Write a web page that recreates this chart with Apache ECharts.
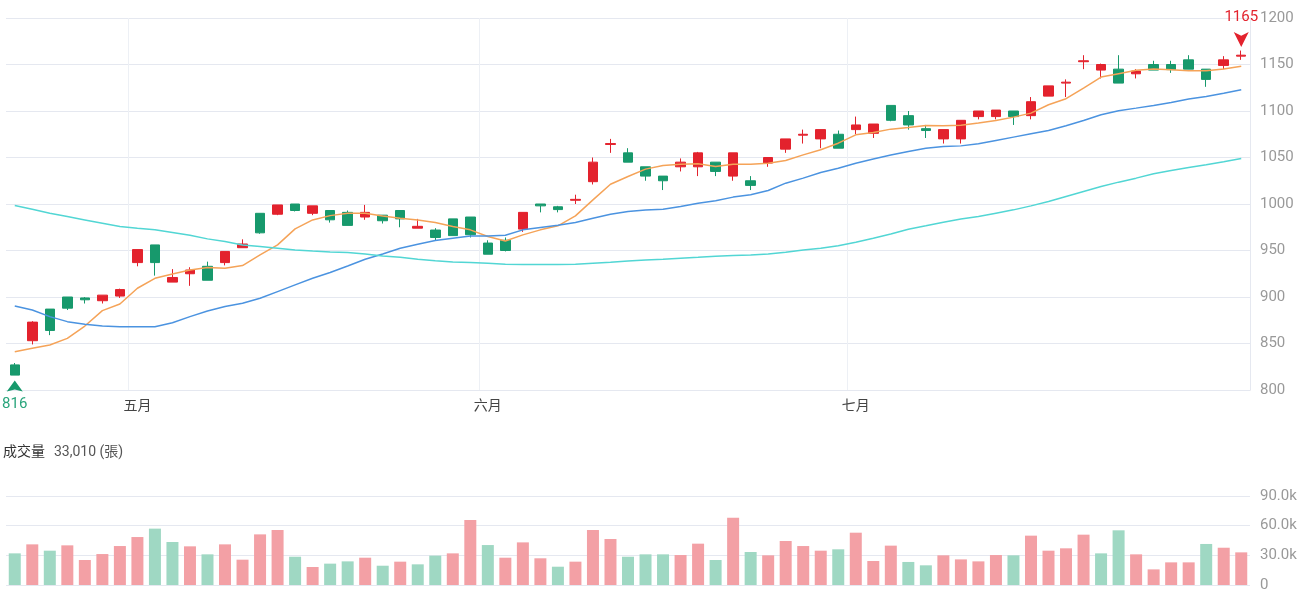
<!DOCTYPE html>
<html>
<head>
<meta charset="utf-8">
<title>K線圖</title>
<script src="https://cdn.jsdelivr.net/npm/echarts@6.0.0/dist/echarts.min.js"></script>
<style>
    html, body { margin: 0; padding: 0; background: #fff; }
    #kline { width: 1300px; height: 600px; }
</style>
</head>
<body>
<div id="kline"></div>
<script>
// 交易日
var dates = [
    '2025-04-22', '2025-04-23', '2025-04-24', '2025-04-25', '2025-04-28', '2025-04-29', '2025-04-30',
    '2025-05-02', '2025-05-05', '2025-05-06', '2025-05-07', '2025-05-08', '2025-05-09', '2025-05-12',
    '2025-05-13', '2025-05-14', '2025-05-15', '2025-05-16', '2025-05-19', '2025-05-20', '2025-05-21',
    '2025-05-22', '2025-05-23', '2025-05-26', '2025-05-27', '2025-05-28', '2025-05-29',
    '2025-06-02', '2025-06-03', '2025-06-04', '2025-06-05', '2025-06-06', '2025-06-09', '2025-06-10',
    '2025-06-11', '2025-06-12', '2025-06-13', '2025-06-16', '2025-06-17', '2025-06-18', '2025-06-19',
    '2025-06-20', '2025-06-23', '2025-06-24', '2025-06-25', '2025-06-26', '2025-06-27', '2025-06-30',
    '2025-07-01', '2025-07-02', '2025-07-03', '2025-07-04', '2025-07-07', '2025-07-08', '2025-07-09',
    '2025-07-10', '2025-07-11', '2025-07-14', '2025-07-15', '2025-07-16', '2025-07-17', '2025-07-18',
    '2025-07-21', '2025-07-22', '2025-07-23', '2025-07-24', '2025-07-25', '2025-07-28', '2025-07-29',
    '2025-07-30', '2025-07-31'
];
var monthNames = { '04': '四月', '05': '五月', '06': '六月', '07': '七月' };

// 開 收 低 高
var openData = [
    827, 853, 887, 900, 899, 896, 901, 937, 956, 916, 925, 933, 937, 953, 990, 989, 1000, 990, 993, 991,
    986, 988, 993, 974, 972, 984, 986, 958, 961, 973, 1000, 997, 1004, 1024, 1064, 1055, 1040, 1030, 1040, 1040,
    1045, 1030, 1025, 1044, 1059, 1074, 1070, 1075, 1080, 1076, 1106, 1095, 1081, 1070, 1070, 1094, 1094, 1100, 1095, 1116,
    1130, 1153, 1144, 1145, 1140, 1150, 1150, 1155, 1145, 1149, 1159
];
var closeData = [
    816, 873, 864, 888, 897, 902, 908, 951, 937, 921, 929, 918, 949, 957, 969, 999, 993, 998, 983, 977,
    991, 982, 984, 976, 964, 966, 967, 946, 950, 991, 998, 994, 1005, 1045, 1065, 1045, 1030, 1025, 1045, 1055,
    1035, 1055, 1020, 1050, 1070, 1075, 1080, 1060, 1085, 1086, 1090, 1085, 1079, 1080, 1090, 1100, 1101, 1094, 1110, 1127,
    1131, 1154, 1150, 1130, 1143, 1144, 1144.5, 1145, 1134, 1155, 1160
];
var lowData = [
    816, 849, 859, 886, 893, 893, 899, 933, 923, 916, 912, 918, 934, 953, 968, 988, 992, 988, 980, 977,
    983, 979, 975, 974, 961, 966, 964, 946, 949, 970, 991, 991, 1000, 1021, 1055, 1045, 1025, 1015, 1035, 1030,
    1030, 1025, 1015, 1040, 1055, 1065, 1060, 1060, 1075, 1071, 1089, 1080, 1071, 1065, 1065, 1091, 1091, 1085, 1091, 1116,
    1115, 1145, 1135, 1130, 1135, 1144, 1141, 1145, 1126, 1145, 1155
];
var highData = [
    829, 874, 887, 900, 900, 902, 909, 951, 956, 930, 932, 938, 949, 962, 990, 999, 1000, 998, 993, 993,
    999, 988, 993, 984, 974, 984, 986, 961, 964, 991, 1000, 998, 1010, 1050, 1070, 1060, 1040, 1030, 1049, 1056,
    1045, 1055, 1030, 1050, 1070, 1080, 1080, 1079, 1094, 1086, 1106, 1100, 1085, 1080, 1090, 1100, 1101, 1100, 1115, 1127,
    1134, 1160, 1151, 1160, 1145, 1154, 1154, 1160, 1145, 1159, 1165
];

// 成交量 (張)
var volumeData = [
    32000, 41100, 34700, 40100, 25300, 31300, 39400, 48500, 57000, 43500, 39100, 31000, 41100, 25600, 51200, 55600, 28600, 18200, 21600, 23900,
    27600, 19500, 23600, 20900, 29700, 32000, 65700, 40400, 27600, 43100, 27000, 18500, 23600, 55600, 46500, 28600, 31000, 31000, 30300, 41800,
    25300, 68100, 33400, 30000, 44500, 39400, 34700, 36100, 52900, 24300, 39800, 23300, 19900, 30000, 25900, 23900, 30300, 30000, 49900, 34700,
    37100, 50900, 32000, 55300, 31000, 15800, 22900, 22900, 41500, 37700, 33010
];

// 均線
var ma5Data = [
    841.2, 844.8, 848.4, 855.5, 868.8, 885.3, 892.5, 909.4, 920.1, 924.8, 929.1, 931.6, 930.9, 933.8, 945.2, 956.0, 973.2, 982.9, 987.5,
    990.1, 990.1, 987.2, 984.7, 982.9, 980.0, 975.7, 972.2, 965.0, 960.3, 966.8, 972.2, 976.5, 987.2, 1004.4, 1021.3, 1029.6, 1037.5,
    1041.4, 1042.8, 1043.2, 1040.3, 1042.8, 1042.8, 1043.9, 1046.8, 1052.8, 1058.3, 1065.4, 1074.4, 1076.9, 1080.5, 1082.3, 1084.5, 1084.1, 1084.8,
    1087.0, 1089.8, 1093.4, 1097.7, 1106.7, 1113.2, 1124.7, 1136.5, 1140.1, 1143.7, 1145.1, 1144.4, 1143.3, 1143.3, 1145.1, 1148.0
];
var ma20Data = [
    890.4, 886.0, 878.9, 873.5, 870.6, 868.8, 868.1, 868.1, 868.1, 872.4, 878.9, 885.0, 889.7, 893.2, 898.6, 905.8, 913.0, 920.1, 926.4,
    933.4, 940.6, 946.3, 952.4, 956.7, 960.7, 963.2, 965.7, 965.7, 966.4, 972.2, 974.7, 977.2, 980.0, 984.7, 989.0, 991.9, 993.5,
    994.4, 997.3, 1000.9, 1003.4, 1007.4, 1009.9, 1014.5, 1022.4, 1027.8, 1033.9, 1038.5, 1043.9, 1048.3, 1052.6, 1056.5, 1060.0, 1061.9, 1062.5,
    1064.7, 1068.3, 1071.9, 1075.5, 1079.1, 1084.1, 1089.8, 1096.0, 1100.3, 1103.1, 1106.0, 1109.2, 1112.8, 1115.7, 1119.2, 1122.9
];
var ma60Data = [
    998.4, 994.4, 990.1, 986.5, 982.9, 979.3, 975.7, 973.9, 972.2, 969.3, 966.4, 962.5, 959.6, 956.0, 954.2, 952.4, 950.6, 949.5, 948.5,
    947.8, 946.3, 944.2, 942.7, 940.6, 939.1, 937.7, 937.0, 936.3, 935.2, 934.9, 934.9, 934.9, 935.2, 936.3, 937.4, 938.8, 939.9,
    940.6, 941.7, 942.7, 943.8, 944.5, 945.2, 946.3, 948.1, 950.6, 952.4, 955.2, 958.9, 963.2, 967.8, 972.9, 976.5, 980.4, 983.8,
    986.5, 990.1, 993.7, 998.0, 1002.7, 1008.1, 1013.5, 1018.8, 1023.5, 1027.8, 1032.5, 1036.0, 1039.3, 1042.1, 1045.4, 1048.9
];

// 軸刻度
var priceMin = 800, priceMax = 1200, priceStep = 50;
var volMax = 90000, volStep = 30000;

var upColor = '#e3222d';
var downColor = '#17996c';
var volUpColor = '#f3a0a5';
var volDownColor = '#9fd8c3';
var gridLine = '#e5e8f0';
var fontFamily = "Roboto, 'Noto Sans CJK TC', sans-serif";

function isMonthStart(index) {
    return index > 0 && dates[index].substr(5, 2) !== dates[index - 1].substr(5, 2);
}

function drawKline() {
    var candleData = [];
    var volItems = [];
    for (var i = 0; i < dates.length; i++) {
        candleData.push([openData[i], closeData[i], lowData[i], highData[i]]);
        // 量的顏色看和前一天收盤比
        var up = i === 0 ? closeData[i] >= openData[i] : closeData[i] >= closeData[i - 1];
        volItems.push({ value: volumeData[i], itemStyle: { color: up ? volUpColor : volDownColor } });
    }
    var lastVol = volumeData[volumeData.length - 1];

    var chart = echarts.init(document.getElementById('kline'), null, { renderer: 'canvas' });
    var option = {
        animation: false,
        backgroundColor: '#fff',
        textStyle: { fontFamily: fontFamily },
        title: {
            text: '{n|成交量}  {v|' + lastVol.toLocaleString('en-US') + ' (張)}',
            left: 0,
            top: 444,
            padding: [0, 0, 0, 3],
            textStyle: {
                fontWeight: 'normal',
                rich: {
                    n: { fontSize: 14, color: '#333', fontWeight: 'normal', fontFamily: fontFamily },
                    v: { fontSize: 14, color: '#555', fontWeight: 'normal', fontFamily: fontFamily }
                }
            }
        },
        grid: [
            { left: 6, right: 50, top: 18, height: 372, outerBoundsMode: 'none' },
            { left: 6, right: 50, top: 496, height: 89, outerBoundsMode: 'none' }
        ],
        xAxis: [{
            type: 'category',
            gridIndex: 0,
            data: dates,
            boundaryGap: true,
            axisLine: { lineStyle: { color: gridLine } },
            axisTick: { show: false },
            axisLabel: {
                interval: isMonthStart,
                formatter: function (value) { return monthNames[value.substr(5, 2)]; },
                color: '#444',
                fontSize: 14,
                margin: 10,
                fontFamily: fontFamily
            },
            splitLine: { show: true, interval: isMonthStart, lineStyle: { color: '#edf0f5' } }
        }, {
            type: 'category',
            gridIndex: 1,
            data: dates,
            boundaryGap: true,
            axisLine: { show: false },
            axisTick: { show: false },
            axisLabel: { show: false },
            splitLine: { show: false }
        }],
        yAxis: [{
            type: 'value',
            gridIndex: 0,
            position: 'right',
            min: priceMin,
            max: priceMax,
            interval: priceStep,
            axisLine: { show: true, lineStyle: { color: gridLine } },
            axisTick: { show: false },
            axisLabel: {
                color: '#999',
                fontSize: 15,
                margin: 10,
                fontFamily: fontFamily,
                formatter: function (v) { return String(v); }
            },
            splitLine: { lineStyle: { color: gridLine } }
        }, {
            type: 'value',
            gridIndex: 1,
            position: 'right',
            min: 0,
            max: volMax,
            interval: volStep,
            axisLine: { show: false },
            axisTick: { show: false },
            axisLabel: {
                color: '#999',
                fontSize: 15,
                margin: 10,
                fontFamily: fontFamily,
                formatter: function (v) { return v === 0 ? '0' : (v / 1000).toFixed(1) + 'k'; }
            },
            splitLine: { lineStyle: { color: gridLine } }
        }],
        series: [{
            name: 'K',
            type: 'candlestick',
            xAxisIndex: 0,
            yAxisIndex: 0,
            data: candleData,
            barWidth: 10,
            itemStyle: {
                color: upColor,
                color0: downColor,
                borderColor: upColor,
                borderColor0: downColor,
                borderWidth: 1
            },
            markPoint: {
                label: { fontSize: 15, fontFamily: fontFamily },
                data: [{
                    type: 'max',
                    valueDim: 'highest',
                    symbol: 'path://M0,0 L5,2.5 L10,0 L5,10 Z',
                    symbolSize: [15, 15],
                    symbolOffset: [0, -11],
                    itemStyle: { color: upColor },
                    label: { position: 'top', distance: 7, color: upColor }
                }, {
                    type: 'min',
                    valueDim: 'lowest',
                    symbol: 'path://M5,0 L10,10 L5,8 L0,10 Z',
                    symbolSize: [16, 11],
                    symbolOffset: [0, 11],
                    itemStyle: { color: downColor },
                    label: { position: 'bottom', distance: 5, color: '#2aa57c' }
                }]
            }
        }, {
            name: 'MA5',
            type: 'line',
            data: ma5Data,
            symbol: 'none',
            lineStyle: { color: '#f5a358', width: 1.5 }
        }, {
            name: 'MA20',
            type: 'line',
            data: ma20Data,
            symbol: 'none',
            lineStyle: { color: '#4b93e0', width: 1.5 }
        }, {
            name: 'MA60',
            type: 'line',
            data: ma60Data,
            symbol: 'none',
            lineStyle: { color: '#52d6d4', width: 1.5 }
        }, {
            name: '成交量',
            type: 'bar',
            xAxisIndex: 1,
            yAxisIndex: 1,
            data: volItems,
            barWidth: 12
        }]
    };
    chart.setOption(option);
}

drawKline();
</script>
</body>
</html>
